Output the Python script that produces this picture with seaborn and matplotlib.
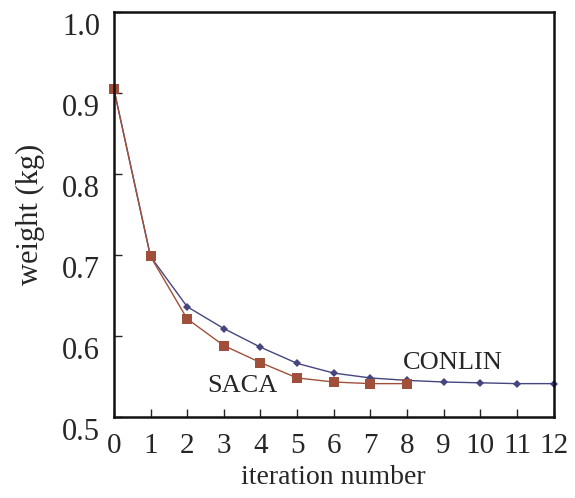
import numpy as np
import pandas as pd
import matplotlib
matplotlib.use("Agg")
import matplotlib.pyplot as plt
import matplotlib.transforms as mtransforms
import seaborn as sns

conlin_iter = list(range(13))
conlin_weight = [0.905, 0.698, 0.636, 0.609, 0.586, 0.566, 0.554, 0.548,
                 0.545, 0.543, 0.542, 0.541, 0.541]
saca_iter = list(range(9))
saca_weight = [0.905, 0.698, 0.621, 0.588, 0.567, 0.548, 0.543, 0.541, 0.541]

x_ticks = list(range(13))
y_ticks = [0.5, 0.6, 0.7, 0.8, 0.9, 1.0]

df = pd.concat([
    pd.DataFrame({"iter": conlin_iter, "weight": conlin_weight, "method": "CONLIN"}),
    pd.DataFrame({"iter": saca_iter, "weight": saca_weight, "method": "SACA"}),
])

sns.set_theme(style="ticks")
plt.rcParams["font.family"] = ["Liberation Serif", "DejaVu Serif"]

fig = plt.figure(figsize=(5.75, 4.98), dpi=100)
ax = fig.add_axes([0.198, 0.163, 0.765, 0.813])

sns.lineplot(data=df, x="iter", y="weight", hue="method", style="method",
             palette={"CONLIN": "#45457f", "SACA": "#a0503a"},
             markers={"CONLIN": "D", "SACA": "s"}, dashes=False,
             markersize=6, linewidth=1.0, markeredgewidth=0,
             hue_order=["CONLIN", "SACA"], legend=False, ax=ax, clip_on=False)
# smaller diamonds than squares
for line, ms in zip(ax.lines, [4.5, 6.5]):
    line.set_markersize(ms)

ax.set_xlim(0, 12)
ax.set_ylim(0.5, 0.995)
ax.set_xticks(x_ticks)
ax.set_yticks(y_ticks)
ax.set_yticklabels([f"{v:.1f}" for v in y_ticks])
ax.tick_params(direction="in", length=6, width=1, pad=10)
ax.tick_params(axis="y", labelsize=22, pad=10)
ax.tick_params(axis="x", labelsize=21, pad=12)
for s in ax.spines.values():
    s.set_linewidth(1.8)
    s.set_color("#111111")

# y labels sit a little below their ticks
off = mtransforms.ScaledTranslation(0, -12 / 100, fig.dpi_scale_trans)
for lab in ax.get_yticklabels():
    lab.set_transform(lab.get_transform() + off)

ax.set_xlabel("iteration number", fontsize=20, labelpad=4)
ax.set_ylabel("weight (kg)", fontsize=22, labelpad=12)

ax.text(7.88, 0.5585, "CONLIN", fontsize=19)
ax.text(2.56, 0.5305, "SACA", fontsize=19)

fig.savefig("out.png", dpi=100)
